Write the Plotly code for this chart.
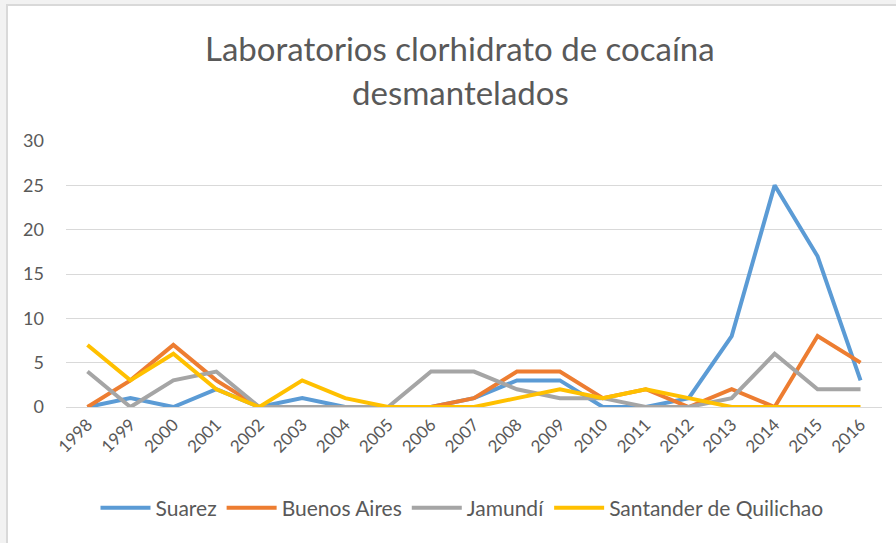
import plotly.graph_objects as go

years = ["1998", "1999", "2000", "2001", "2002", "2003", "2004", "2005", "2006", "2007",
         "2008", "2009", "2010", "2011", "2012", "2013", "2014", "2015", "2016"]
suarez = [0, 1, 0, 2, 0, 1, 0, 0, 0, 1, 3, 3, 0, 0, 1, 8, 25, 17, 3]
buenos_aires = [0, 3, 7, 3, 0, 0, 0, 0, 0, 1, 4, 4, 1, 2, 0, 2, 0, 8, 5]
jamundi = [4, 0, 3, 4, 0, 0, 0, 0, 4, 4, 2, 1, 1, 0, 0, 1, 6, 2, 2]
santander = [7, 3, 6, 2, 0, 3, 1, 0, 0, 0, 1, 2, 1, 2, 1, 0, 0, 0, 0]

series = [
    ("Suarez", suarez, "#5B9BD5"),
    ("Buenos Aires", buenos_aires, "#ED7D31"),
    ("Jamundí", jamundi, "#A5A5A5"),
    ("Santander de Quilichao", santander, "#FFC000"),
]

FONT = "Lato, 'Open Sans', sans-serif"
TXT = "#595959"

fig = go.Figure()
for name, vals, col in series:
    fig.add_trace(go.Scatter(x=years, y=vals, name=name, mode="lines",
                             line=dict(color=col, width=4)))

W, H = 896, 543
L, R, T, B = 66, 14, 141, 136
pw, ph = W - L - R, H - T - B

def px(x):
    return (x - L) / pw

def py(y):
    return (H - B - y) / ph

fig.update_layout(
    width=W, height=H,
    margin=dict(l=L, r=R, t=T, b=B),
    paper_bgcolor="#f2f2f2",
    plot_bgcolor="white",
    font=dict(family=FONT, color=TXT),
    showlegend=True,
    legend=dict(orientation="h", x=px(462), xanchor="center", y=py(508), yanchor="middle",
                font=dict(size=21, color=TXT, family=FONT), bgcolor="rgba(0,0,0,0)",
                itemwidth=50, tracegroupgap=0),
    xaxis=dict(type="category", range=[-0.5, 18.5], showgrid=False, zeroline=False,
               showline=True, linecolor="#d9d9d9", linewidth=1,
               tickangle=-45, tickfont=dict(size=17, color=TXT, family=FONT), ticks=""),
    yaxis=dict(range=[0, 30], dtick=5, showgrid=True, gridcolor="#d9d9d9", gridwidth=1,
               zeroline=False, showline=False, ticks="",
               tickfont=dict(size=18, color=TXT, family=FONT), ticklabelstandoff=21),
    shapes=[dict(type="rect", xref="paper", yref="paper",
                 x0=px(7), x1=px(905), y0=py(555), y1=py(5),
                 fillcolor="white", line=dict(color="#d9d9d9", width=2), layer="below")],
    annotations=[
        dict(text="Laboratorios clorhidrato de cocaína", xref="paper", yref="paper",
             x=px(460), y=py(48), xanchor="center", yanchor="middle", showarrow=False,
             font=dict(size=33, color=TXT, family=FONT)),
        dict(text="desmantelados", xref="paper", yref="paper",
             x=px(460), y=py(92), xanchor="center", yanchor="middle", showarrow=False,
             font=dict(size=33, color=TXT, family=FONT)),
    ],
)

fig.write_html("out.html", config={"displayModeBar": False},
               post_script="document.body.style.margin='0px';document.body.style.overflow='hidden';")
